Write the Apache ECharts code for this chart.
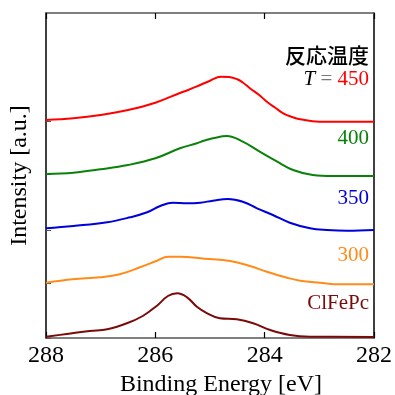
<!DOCTYPE html>
<html>
<head>
<meta charset="utf-8">
<script src="https://cdn.jsdelivr.net/npm/echarts@6/dist/echarts.min.js"></script>
<style>
  html, body { margin: 0; padding: 0; background: #fff; }
  #chart { width: 395px; height: 395px; }
</style>
</head>
<body>
<div id="chart"></div>
<script>
// [binding energy (eV), intensity (a.u., offset included)]
const t450 = [[288.0, 218], [287.5, 219.7], [287.0, 223], [286.5, 228], [286.0, 235.3], [285.55, 245],
  [285.4, 248], [285.25, 251.3], [285.0, 257.3], [284.8, 261.3], [284.65, 261], [284.5, 258.7],
  [284.4, 255.5], [284.27, 249.7], [284.1, 243], [283.96, 236.3], [283.8, 230], [283.66, 224.7],
  [283.5, 221], [283.35, 218.7], [283.0, 216.3], [282.5, 216.3], [282.0, 216.3]]
const t400 = [[288.0, 164], [287.5, 165.3], [287.0, 168.7], [286.5, 173], [286.0, 179.7], [285.55, 189.7],
  [285.24, 194.7], [285.1, 197.5], [284.95, 199.7], [284.69, 202], [284.4, 196.3], [284.09, 186.3],
  [283.77, 176.3], [283.48, 168], [283.12, 163], [282.75, 162], [282.0, 162]]
const t350 = [[288.0, 109.7], [287.5, 112], [286.88, 115.7], [286.46, 120.7], [286.15, 125.7], [285.91, 132],
  [285.68, 135.3], [285.42, 134.7], [285.18, 135.3], [284.95, 137.3], [284.67, 139], [284.4, 136.3],
  [284.14, 129.7], [283.85, 123], [283.54, 115.3], [283.17, 109.7], [282.86, 108], [282.49, 107.3], [282.0, 108]]
const t300 = [[288.0, 55.3], [287.51, 58.7], [287.01, 60.7], [286.65, 63.7], [286.28, 70.7], [285.97, 77.3],
  [285.77, 81.3], [285.55, 81.3], [285.1, 79.3], [284.63, 77], [284.27, 72], [283.96, 66.3],
  [283.59, 60.3], [283.35, 57.3], [282.99, 55.3], [282.62, 53.7], [282.0, 53.7]]
const clfepc = [[288.0, 1.3], [287.62, 4], [287.2, 7], [286.88, 8.7], [286.52, 14.7], [286.23, 22],
  [285.97, 32.3], [285.77, 42], [285.6, 44.7], [285.42, 40.7], [285.24, 31.3], [285.05, 24.7],
  [284.82, 19.7], [284.51, 18.7], [284.21, 14.7], [283.9, 8], [283.54, 3], [283.17, 1.3], [282.0, 1]]
const baselines = [0, 55, 108, 164, 217]

const serif = 'Liberation Serif'
const chart = echarts.init(document.getElementById('chart'))

function line(name, data, color) {
  return {
    name: name,
    type: 'line',
    data: data,
    showSymbol: false,
    smooth: 0.4,
    lineStyle: { color: color, width: 2 },
    itemStyle: { color: color },
  }
}

const xTick = { show: true, inside: true, length: 6, lineStyle: { color: '#000', width: 1.2 } }

const option = {
  animation: false,
  grid: { left: 46, right: 21, top: 13, bottom: 57, outerBoundsMode: 'none' },
  xAxis: [
    {
      type: 'value',
      inverse: true,
      position: 'bottom',
      min: 282,
      max: 288,
      interval: 2,
      name: 'Binding Energy [eV]',
      nameLocation: 'middle',
      nameGap: 30,
      nameTextStyle: { fontFamily: serif, fontSize: 24, color: '#000', padding: [0, 0, 0, 22] },
      axisLine: { show: true, onZero: false, lineStyle: { color: '#555', width: 1.5 } },
      axisTick: xTick,
      axisLabel: { fontFamily: serif, fontSize: 24, color: '#000', margin: 6 },
      splitLine: { show: false },
    },
    {
      type: 'value',
      inverse: true,
      position: 'top',
      min: 282,
      max: 288,
      interval: 2,
      axisLine: { show: true, onZero: false, lineStyle: { color: '#555', width: 1.5 } },
      axisTick: xTick,
      axisLabel: { show: false },
      splitLine: { show: false },
    },
  ],
  yAxis: [
    {
      type: 'value',
      min: 0,
      max: 325,
      name: 'Intensity [a.u.]',
      nameLocation: 'middle',
      nameGap: 14,
      nameTextStyle: { fontFamily: serif, fontSize: 24, color: '#000' },
      axisLine: { show: true, onZero: false, lineStyle: { color: '#000', width: 1.5 } },
      axisTick: { show: true, inside: true, length: 5, customValues: baselines, lineStyle: { color: '#555' } },
      axisLabel: { show: false },
      splitLine: { show: false },
    },
    {
      type: 'value',
      position: 'right',
      min: 0,
      max: 325,
      axisLine: { show: true, onZero: false, lineStyle: { color: '#000', width: 1.5 } },
      axisTick: { show: false },
      axisLabel: { show: false },
      splitLine: { show: false },
    },
  ],
  series: [
    line('450', t450, '#ff0000'),
    line('400', t400, '#0a820a'),
    line('350', t350, '#0000dd'),
    line('300', t300, '#ff8c1a'),
    line('ClFePc', clfepc, '#7a0a0a'),
  ],
  graphic: [
    { type: 'text', x: 369, y: 55, style: { text: '反応温度', font: '500 21px "Noto Sans CJK JP"', fill: '#000', align: 'right', verticalAlign: 'middle' } },
    {
      type: 'text', x: 369, y: 79,
      style: {
        text: '{t|T}{eq| = }{n|450}',
        align: 'right', verticalAlign: 'middle',
        rich: {
          t: { fontFamily: serif, fontStyle: 'italic', fontSize: 21, fill: '#000' },
          eq: { fontFamily: serif, fontSize: 21, fill: '#777' },
          n: { fontFamily: serif, fontSize: 21, fill: '#ff0000' },
        },
      },
    },
    { type: 'text', x: 369, y: 138, style: { text: '400', font: '21px "Liberation Serif"', fill: '#0a820a', align: 'right', verticalAlign: 'middle' } },
    { type: 'text', x: 369, y: 198, style: { text: '350', font: '21px "Liberation Serif"', fill: '#0000dd', align: 'right', verticalAlign: 'middle' } },
    { type: 'text', x: 369, y: 255, style: { text: '300', font: '21px "Liberation Serif"', fill: '#ff8c1a', align: 'right', verticalAlign: 'middle' } },
    { type: 'text', x: 369, y: 303, style: { text: 'ClFePc', font: '21px "Liberation Serif"', fill: '#7a0a0a', align: 'right', verticalAlign: 'middle' } },
  ],
}

chart.setOption(option)
</script>
</body>
</html>
